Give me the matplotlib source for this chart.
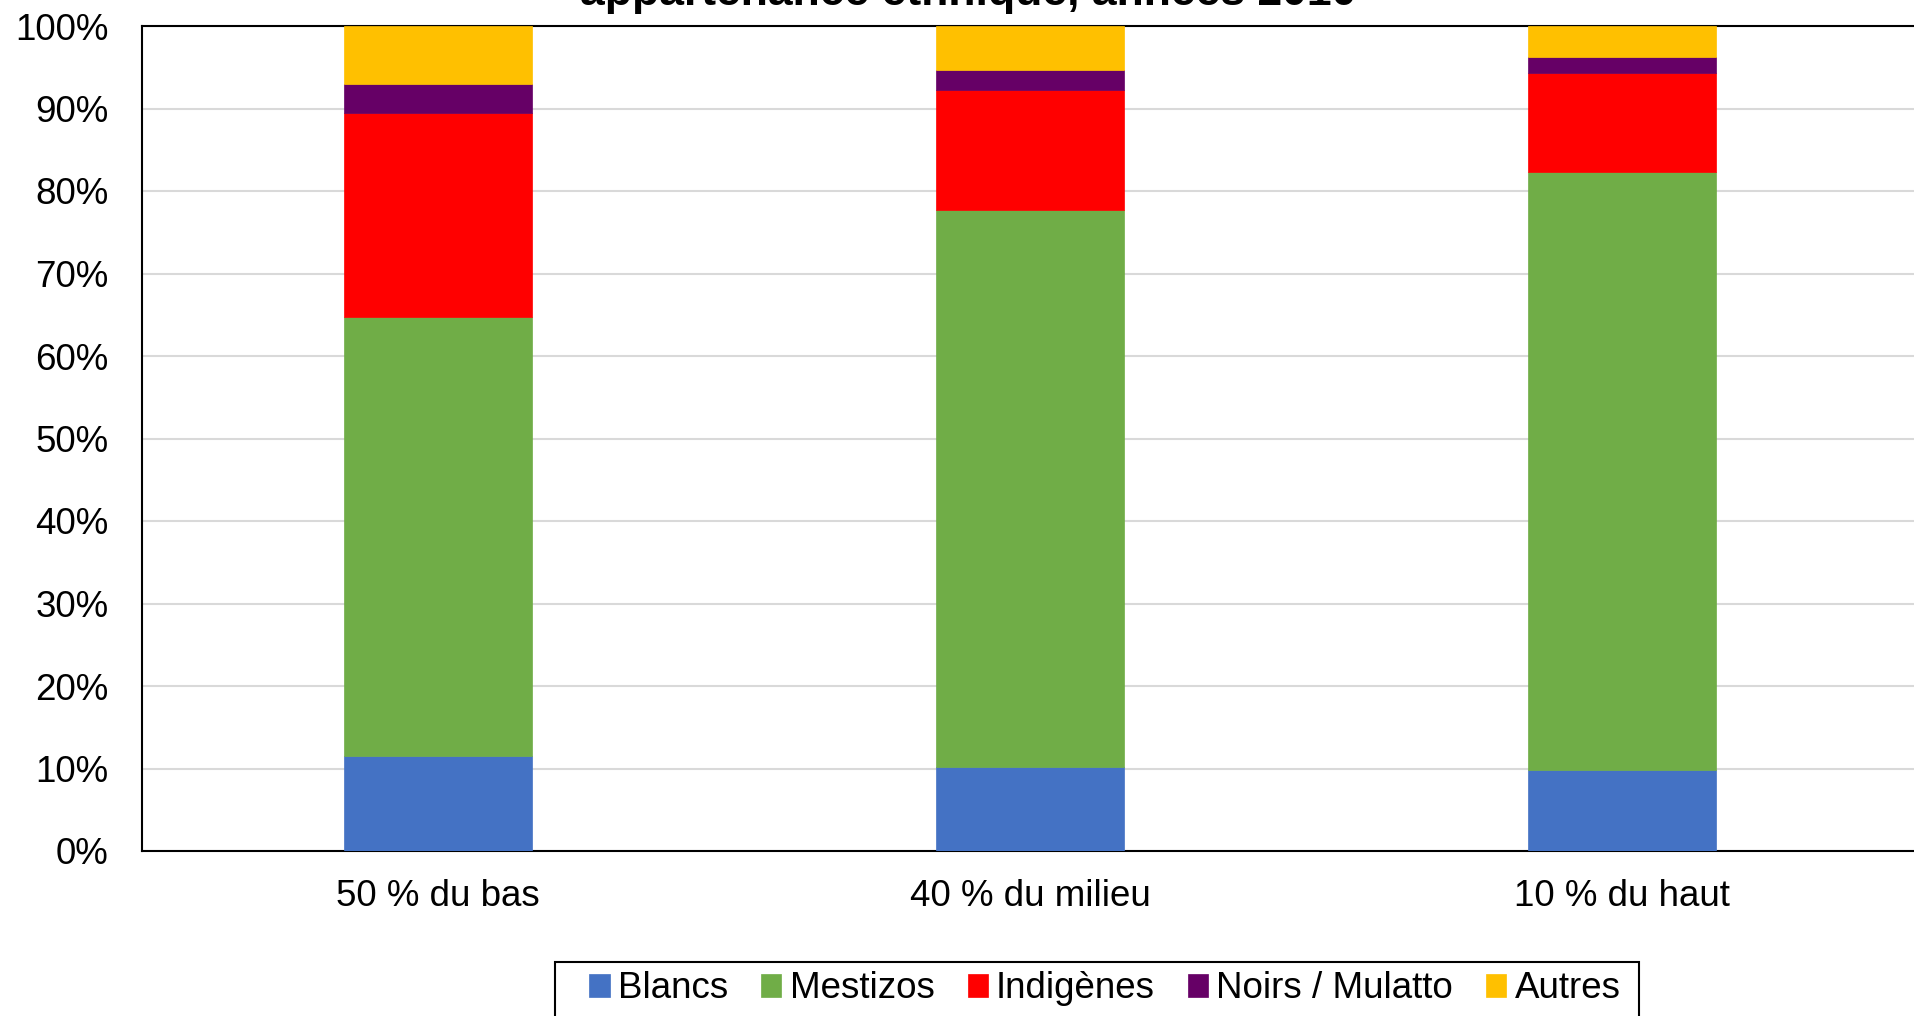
import matplotlib
matplotlib.use("Agg")
import matplotlib.pyplot as plt
from matplotlib.patches import Rectangle
import numpy as np

plt.rcParams['font.family'] = ['Liberation Sans', 'DejaVu Sans']

categories = ["50 % du bas", "40 % du milieu", "10 % du haut"]
series_names = ["Blancs", "Mestizos", "Indigènes", "Noirs / Mulatto", "Autres"]
blancs = [11.5, 10.2, 9.8]
mestizos = [53.2, 67.5, 72.5]
indigenes = [24.7, 14.5, 12.0]
noirs = [3.6, 2.5, 2.0]
autres = [7.0, 5.3, 3.7]
colors = ["#4472C4", "#70AD47", "#FF0000", "#660066", "#FFC000"]
y_ticks = [0, 10, 20, 30, 40, 50, 60, 70, 80, 90, 100]
y_tick_labels = [f"{v}%" for v in y_ticks]
title = "appartenance ethnique, années 2010"

W, H = 1915, 1016
FS = 26.5
fig = plt.figure(figsize=(W / 100, H / 100), dpi=100)
ax_left, ax_right, ax_top, ax_bottom = 142, 1918, 26, 851
ax = fig.add_axes([ax_left / W, (H - ax_bottom) / H, (ax_right - ax_left) / W, (ax_bottom - ax_top) / H])

x = np.arange(len(categories))
bottom = np.zeros(len(categories))
handles = []
for name, vals, col in zip(series_names, [blancs, mestizos, indigenes, noirs, autres], colors):
    b = ax.bar(x, vals, width=0.318, bottom=bottom, color=col, label=name, zorder=3,
               edgecolor=col, linewidth=0.5)
    handles.append(b)
    bottom += np.array(vals)

ax.set_xlim(-0.5, 2.5)
ax.set_ylim(0, 100)
ax.set_yticks(y_ticks)
ax.set_yticklabels(y_tick_labels, fontsize=FS)
ax.set_xticks(x)
ax.set_xticklabels(categories, fontsize=FS)
ax.tick_params(axis='y', length=0, pad=24)
ax.tick_params(axis='x', length=0, pad=20)
ax.yaxis.grid(True, color="#D9D9D9", linewidth=1.5, zorder=0)
ax.set_axisbelow(True)
for side in ["left", "bottom", "top", "right"]:
    ax.spines[side].set_color("black")
    ax.spines[side].set_linewidth(1.5)

fig.text(968 / W, (H - 5) / H, title, ha='center', va='baseline', fontsize=32, fontweight='bold')

leg = fig.legend(handles=handles, labels=series_names, loc='center',
                 bbox_to_anchor=(1105 / W, (H - 989) / H), ncol=5, fontsize=FS,
                 frameon=False, handlelength=0.55,
                 handleheight=0.55, handletextpad=0.22, columnspacing=0.9,
                 borderpad=0, borderaxespad=0)
leg.set_zorder(3)

# legend box drawn around the legend content, relative to its rendered extent
fig.canvas.draw()
bb = leg.get_window_extent()
pad_l, pad_r, pad_t = 34, 18, 10
x0 = bb.x0 - pad_l
x1 = bb.x1 + pad_r
y1 = bb.y1 + pad_t
y0 = bb.y0 - 40
fig.patches.append(Rectangle((x0 / W, y0 / H), (x1 - x0) / W, (y1 - y0) / H,
                             transform=fig.transFigure, facecolor='white', edgecolor='black',
                             linewidth=1.5, zorder=1))

fig.savefig("out.png", dpi=100)
